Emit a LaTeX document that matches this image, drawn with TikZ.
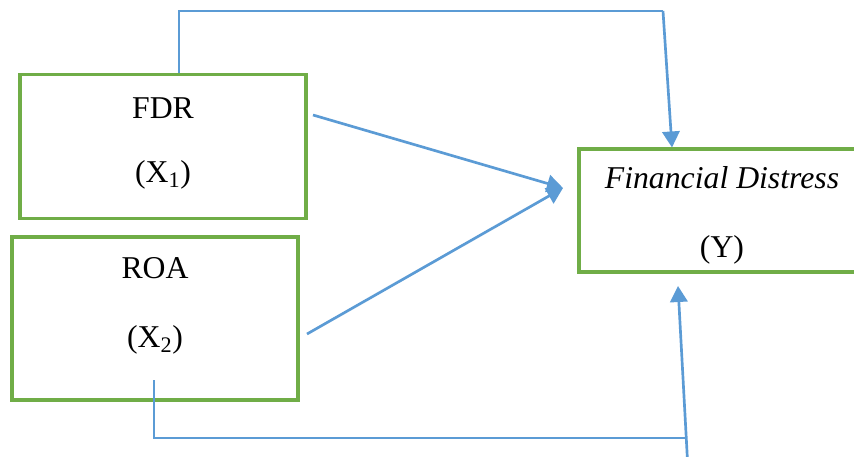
\documentclass[tikz,border=0pt]{standalone}
\usepackage{fontspec}
\setmainfont{Liberation Serif}
\usetikzlibrary{arrows.meta}
\definecolor{boxgreen}{HTML}{70AD47}
\definecolor{lineblue}{HTML}{5B9BD5}
\begin{document}
\begin{tikzpicture}[x=0.75pt,y=-0.75pt,
  varbox/.style={draw=boxgreen,line width=2.3pt,minimum width=#1},
  lbl/.style={font=\fontsize{23.8pt}{28pt}\selectfont,inner sep=0pt},
  thinline/.style={draw=lineblue,line width=1pt},
  thickarrow/.style={draw=lineblue,line width=2pt,-{Triangle[length=12pt,width=13pt]}}]
\clip (0,0) rectangle (854,457);
\fill[white] (0,0) rectangle (854,457);
% boxes
\node[varbox=214.5pt,minimum height=108pt] (fdr) at (163,146.5) {};
\node[varbox=214.5pt,minimum height=122.25pt] (roa) at (155,318.5) {};
\node[varbox=247.5pt,minimum height=92.25pt] (fd) at (744,210.5) {};
% labels
\node[lbl] (fdrt) at (163,108) {FDR};
\node[lbl] (x1) at (163,175) {(X\textsubscript{1})};
\node[lbl] (roat) at (155,268) {ROA};
\node[lbl] (x2) at (155,340) {(X\textsubscript{2})};
\node[lbl] (fdt) at (722,178) {\itshape Financial Distress};
\node[lbl] (y) at (722,250) {(Y)};
% coordinates
\coordinate (c1) at (179,11);
\coordinate (c2) at (663,11);
\coordinate (a1) at (672,0);
\coordinate (s1) at (313,115);
\coordinate (s2) at (307,334);
\coordinate (m) at (563,188);
\coordinate (b1) at (154,380);
\coordinate (b2) at (154,438);
\coordinate (b3) at (686,438);
\coordinate (b4) at (688,470);
\coordinate (t4) at (678,286);
% connectors
\draw[thinline] (fdr.north -| c1) -- (c1) -- (c2);
\draw[thickarrow] (c2) -- (fd.north -| a1);
\draw[thickarrow] (s1) -- (m);
\draw[thickarrow] (s2) -- (m);
\draw[thinline] (b1) -- (b2) -- (b3);
\draw[thickarrow] (b4) -- (t4);
\end{tikzpicture}
\end{document}
